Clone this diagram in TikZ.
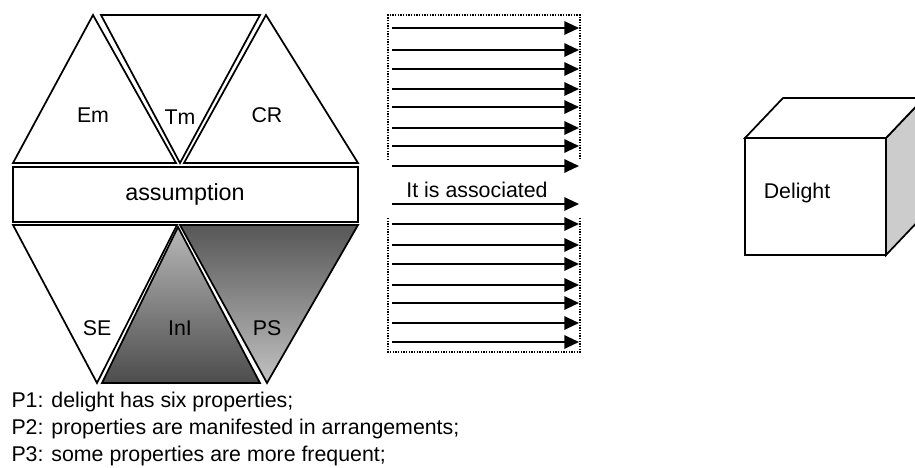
\documentclass[tikz,border=0pt]{standalone}
\usepackage{fontspec}
\setmainfont{Liberation Sans}
\usetikzlibrary{arrows.meta}
\tikzset{every picture/.style={line width=0.75pt}}
\begin{document}
\begin{tikzpicture}[x=0.75pt,y=0.75pt,yscale=-1,xscale=1,
  tri/.style={draw=black,line width=1.3pt,line join=miter},
  lbl/.style={inner sep=0.75pt,font=\fontsize{16}{19}\selectfont},
  arr/.style={-{Triangle[length=11pt,width=10pt]},line width=1.5pt},
  dotframe/.style={line width=1pt,dash pattern=on 0.9pt off 1.1pt}]
\useasboundingbox (0,0) rectangle (915,468);
\clip (0,0) rectangle (915,468);

%Triangles, upper row
\draw [tri] (13,163) -- (93,15) -- (176,163) -- cycle ;
\draw [tri] (101,15) -- (260,15) -- (180,163) -- cycle ;
\draw [tri] (184,163) -- (266,15) -- (358,163) -- cycle ;

%Assumption bar
\draw [line width=1.8pt] (13,167) rectangle (358,222) ;

%Triangles, lower row
\draw [tri] (13,225) -- (177,225) -- (97,383) -- cycle ;
\shade [top color=black!28,bottom color=black!70] (178,227) -- (260,383) -- (102,383) -- cycle ;
\draw [tri] (178,227) -- (260,383) -- (102,383) -- cycle ;
\shade [top color=black!66,bottom color=black!24] (180,225) -- (358,225) -- (267,383) -- cycle ;
\draw [tri] (180,225) -- (358,225) -- (267,383) -- cycle ;

% Text Node
\node [lbl] (em) at (93,115) {Em};
\node [lbl] (tm) at (180,117) {Tm};
\node [lbl] (cr) at (267,115) {CR};
\node [lbl,font=\fontsize{17.5}{21}\selectfont] (assum) at (185,194) {assumption};
\node [lbl] (se) at (97,328) {SE};
\node [lbl] (ini) at (180,328) {InI};
\node [lbl] (ps) at (267,328) {PS};

%Dotted frames
\draw [dotframe] (388,160) -- (388,15) -- (580,15) -- (580,160) ;
\draw [dotframe] (388,218) -- (388,352) -- (580,352) -- (580,218) ;

%Arrows
\foreach \y [count=\i] in {28,50,69,89,107,128,146,166,204,224,245,264,285,303,323,342} {
  \coordinate (s\i) at (392,\y);
  \coordinate (t\i) at (579,\y);
  \draw [arr] (s\i) -- (t\i);
}
% Text Node
\node [lbl] (assoc) at (477,190) {It is associated};

%Cube
\draw [line width=1.3pt,fill=black!20] (886,138) -- (924,98) -- (924,215) -- (886,255) -- cycle ;
\draw [line width=1.3pt,fill=white] (745,138) -- (783,98) -- (924,98) -- (886,138) -- cycle ;
\draw [line width=1.3pt,fill=white] (745,138) rectangle (886,255) ;
\node [lbl] (delight) at (797,193) {Delight};

% Text Node
\node [lbl,anchor=base west] (p1) at (10,407) {P1: delight has six properties;};
\node [lbl,anchor=base west] (p2) at (10,434) {P2: properties are manifested in arrangements;};
\node [lbl,anchor=base west] (p3) at (10,461) {P3: some properties are more frequent;};

\end{tikzpicture}
\end{document}
